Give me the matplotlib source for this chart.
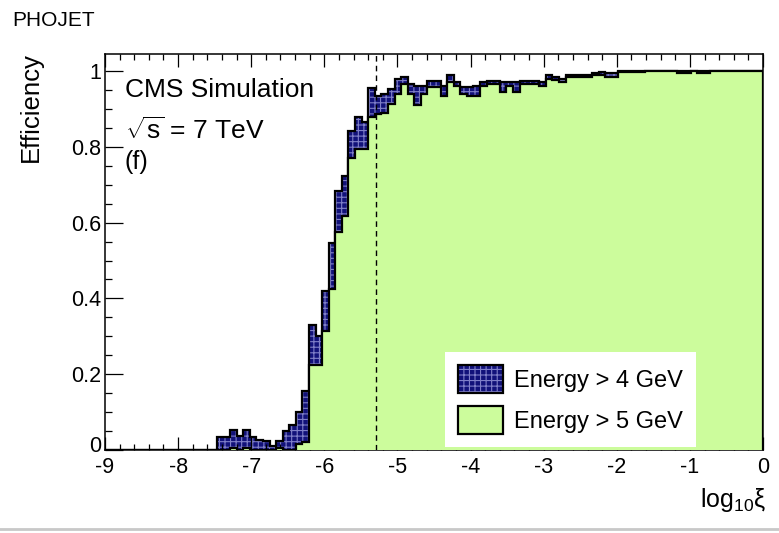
import numpy as np
import matplotlib
matplotlib.use("Agg")
import matplotlib.pyplot as plt
from matplotlib.patches import Patch
from matplotlib.ticker import MultipleLocator, FixedLocator
from matplotlib.lines import Line2D
from matplotlib.legend_handler import HandlerTuple
from matplotlib.transforms import ScaledTranslation

plt.rcParams['font.family'] = ['Liberation Sans', 'DejaVu Sans']
plt.rcParams['mathtext.fontset'] = 'custom'
plt.rcParams['mathtext.rm'] = 'Liberation Sans'
plt.rcParams['mathtext.it'] = 'Liberation Sans:italic'
plt.rcParams['hatch.linewidth'] = 0.8

# log10(xi) binning: 100 bins between -9 and 0
edges = np.linspace(-9.0, 0.0, 101)

# efficiency, energy threshold 4 GeV
eff_4gev = [0.0] * 17 + [
    0.034, 0.034, 0.053, 0.037, 0.053, 0.034, 0.027, 0.024, 0.010, 0.024,
    0.050, 0.066, 0.100, 0.155, 0.330, 0.300, 0.420, 0.545, 0.684, 0.724,
    0.842, 0.880, 0.865, 0.955, 0.935, 0.940, 0.953, 0.980, 0.985, 0.966,
    0.960, 0.960, 0.974, 0.974, 0.960, 0.990, 0.970, 0.958, 0.958, 0.960,
    0.970, 0.974, 0.974, 0.970, 0.970, 0.970, 0.974, 0.974, 0.974, 0.970,
    0.990, 0.985, 0.980, 0.990, 0.990, 0.990, 0.990, 0.995, 0.997, 0.995,
    0.995] + [1.0] * 22

# efficiency, energy threshold 5 GeV
eff_5gev = [0.0] * 19 + [
    0.006, 0.000, 0.006, 0.000, 0.000, 0.000, 0.000, 0.006, 0.000, 0.000,
    0.015, 0.020, 0.224, 0.224, 0.313, 0.426, 0.576, 0.618, 0.770, 0.795,
    0.795, 0.880, 0.887, 0.890, 0.913, 0.940, 0.966, 0.940, 0.910, 0.940,
    0.958, 0.958, 0.934, 0.970, 0.960, 0.940, 0.934, 0.934, 0.960, 0.966,
    0.966, 0.945, 0.960, 0.945, 0.966, 0.966, 0.966, 0.960, 0.980, 0.977,
    0.972, 0.985, 0.985, 0.985, 0.985, 0.990, 0.990, 0.985, 0.985, 0.997,
    0.997, 0.998, 0.998, 1.000, 1.000, 1.000, 1.000, 1.000, 0.996, 0.996,
    1.000, 0.996, 0.996] + [1.0] * 8

xi_cut = -5.3

navy = '#12127a'
hatch_col = '#7f7fc8'
green = '#ccfc9c'

fig = plt.figure(figsize=(7.79, 5.33), dpi=100)
ax = fig.add_axes([105 / 779, 83 / 533, 658 / 779, 396 / 533])

ax.stairs(eff_4gev, edges, fill=True, facecolor=navy, edgecolor=hatch_col,
          hatch='+++', linewidth=0, zorder=1)
ax.stairs(eff_4gev, edges, color='black', linewidth=1.6, zorder=2)
ax.stairs(eff_5gev, edges, fill=True, facecolor=green, linewidth=0, zorder=3)
ax.stairs(eff_5gev, edges, color='black', linewidth=1.6, zorder=4)
ax.axvline(xi_cut, color='black', linewidth=1.0, linestyle=(0, (4, 3)), zorder=5)

ax.set_xlim(-9, 0)
ax.set_ylim(0, 1.045)

ax.xaxis.set_major_locator(MultipleLocator(1))
ax.xaxis.set_minor_locator(MultipleLocator(0.2))
ax.yaxis.set_major_locator(FixedLocator([0, 0.2, 0.4, 0.6, 0.8, 1.0]))
ax.yaxis.set_minor_locator(MultipleLocator(0.05))
ax.set_yticklabels(['0', '0.2', '0.4', '0.6', '0.8', '1'])
ax.set_xticklabels([f'{v:g}' for v in ax.get_xticks()])

ax.tick_params(axis='x', which='both', direction='in', top=True, bottom=True,
               labelsize=15.5, pad=5, width=0.9)
ax.tick_params(axis='x', which='major', length=9.5)
ax.tick_params(axis='x', which='minor', length=4.5)
ax.tick_params(axis='y', which='both', direction='in', left=True, right=False,
               labelsize=15.5, pad=3, width=0.9)
ax.tick_params(axis='y', which='major', length=13)
ax.tick_params(axis='y', which='minor', length=5)
for s in ax.spines.values():
    s.set_linewidth(1.1)

# lift the "0" on the y axis a little so it clears the "-9" below it
zero_lbl = ax.get_yticklabels()[0]
zero_lbl.set_transform(zero_lbl.get_transform()
                       + ScaledTranslation(0, 4 / 72, fig.dpi_scale_trans))

ax.text(0.030, 0.909, 'CMS Simulation', transform=ax.transAxes,
        fontsize=19, va='center', ha='left', zorder=7)
ax.text(0.030, 0.806, r'$\sqrt{\mathregular{s}}$ = 7 TeV', transform=ax.transAxes,
        fontsize=19, va='center', ha='left', zorder=7)
ax.text(0.030, 0.727, '(f)', transform=ax.transAxes,
        fontsize=18, va='center', ha='left', zorder=7)

fig.text(12 / 779, 1 - 20 / 533, 'PHOJET', fontsize=15, ha='left', va='center')
fig.text(31 / 779, 1 - 52 / 533, 'Efficiency', fontsize=18.5, rotation=90,
         ha='center', va='top')
fig.text(766 / 779, 1 - 500 / 533, r'log$_{\mathregular{10}}$ξ', fontsize=18,
         ha='right', va='center')

h4 = (Patch(facecolor=navy, edgecolor=hatch_col, hatch='+++', linewidth=0),
      Patch(facecolor='none', edgecolor='black', linewidth=1.6))
h5 = Patch(facecolor=green, edgecolor='black', linewidth=1.6)
leg = ax.legend([h4, h5], ['Energy > 4 GeV', 'Energy > 5 GeV'],
                handler_map={tuple: HandlerTuple(ndivide=1, pad=0)},
                loc='lower left', bbox_to_anchor=(0.517, 0.008), fontsize=17,
                frameon=True, fancybox=False, edgecolor='none', facecolor='white',
                framealpha=1, handlelength=1.9, handleheight=1.45,
                handletextpad=0.45, labelspacing=0.55, borderpad=0.55,
                borderaxespad=0)
leg.set_zorder(8)

fig.add_artist(Line2D([0, 1], [4 / 533, 4 / 533], color='#c8c8c8', linewidth=2))

fig.savefig('out.png', dpi=100)
